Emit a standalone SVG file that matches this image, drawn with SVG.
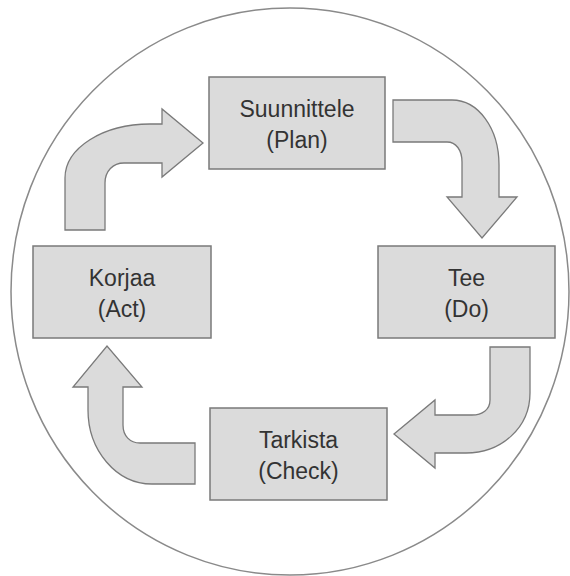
<svg xmlns="http://www.w3.org/2000/svg" width="570" height="576" viewBox="0 0 570 576">
  <style>
    .box { fill: #dbdbdb; stroke: #7a7a7a; stroke-width: 1.5; }
    .arrow { fill: #dbdbdb; stroke: #7a7a7a; stroke-width: 1.3; stroke-linejoin: miter; }
    .label { font-family: "Liberation Sans", Arial, sans-serif; font-size: 23px; fill: #333333; text-anchor: middle; }
    .ring { fill: none; stroke: #8a8a8a; stroke-width: 1.5; }
  </style>
  <rect width="570" height="576" fill="#ffffff"/>

  <!-- enclosing cycle outline -->
  <ellipse class="ring" cx="290" cy="291.5" rx="279" ry="283.5"/>

  <!-- curved cycle arrows -->
  <g id="connectors">
    <path id="act-to-plan" class="arrow" d="M65,230 L65,178 C65,148 103,124 150,124 L162,124 L162,109 L203,143 L162,177 L162,163 L124,163 C113,163 105,171 105,183 L105,230 Z"/>
    <path id="plan-to-do" class="arrow" d="M393,100 L452,100 C478,100 499,128 499,165 L499,197 L517,197 L482,238 L447,197 L462,197 L462,162 C462,150 456,142 447,142 L393,142 Z"/>
    <path id="do-to-check" class="arrow" d="M490,347 L530,347 L530,393 C530,428 501,453 466,453 L435,453 L435,468 L394,434 L435,400 L435,415 L472,415 C482,415 490,410 490,400 Z"/>
    <path id="check-to-act" class="arrow" d="M195,484 L152,484 C116,484 88,450 88,410 L88,387 L73,387 L107,346 L142,387 L123,387 L123,425 C123,436 130,443 140,443 L195,443 Z"/>
  </g>

  <g id="plan">
    <rect class="box" x="209" y="77" width="176" height="92"/>
    <text class="label" x="297" y="117">Suunnittele</text>
    <text class="label" x="297" y="148">(Plan)</text>
  </g>

  <g id="do">
    <rect class="box" x="378" y="246" width="177" height="92"/>
    <text class="label" x="466.5" y="286">Tee</text>
    <text class="label" x="466.5" y="317">(Do)</text>
  </g>

  <g id="check">
    <rect class="box" x="210" y="408" width="177" height="92"/>
    <text class="label" x="298.5" y="448">Tarkista</text>
    <text class="label" x="298.5" y="479">(Check)</text>
  </g>

  <g id="act">
    <rect class="box" x="33" y="246" width="178" height="92"/>
    <text class="label" x="122" y="286">Korjaa</text>
    <text class="label" x="122" y="317">(Act)</text>
  </g>
</svg>
